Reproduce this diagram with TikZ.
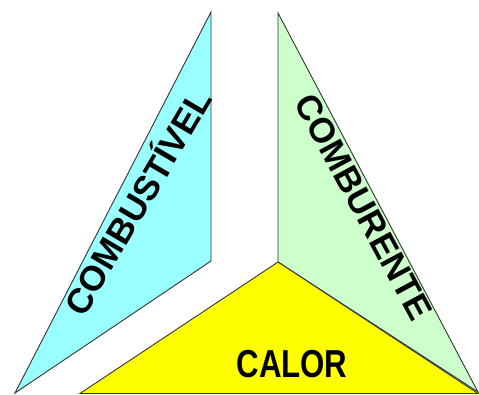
\documentclass[tikz,border=0pt]{standalone}
\usepackage{fontspec}
\setmainfont{Liberation Sans}
\definecolor{fuelc}{HTML}{99FFFF}
\definecolor{oxyc}{HTML}{CCFFCC}
\definecolor{heatc}{HTML}{FFFF00}
\definecolor{edgec}{HTML}{333333}
\tikzset{
  piece/.style={draw=edgec, line width=0.9pt, line join=miter},
  lbl/.style={font=\bfseries\fontsize{35}{35}\selectfont, text height=25pt, text depth=0pt, inner sep=0pt}
}
\begin{document}
\begin{tikzpicture}[x=1pt,y=1pt]
\useasboundingbox (0,0) rectangle (479,394);
% combustivel
\coordinate (f1) at (15,1);
\coordinate (f2) at (211,382);
\coordinate (f3) at (211,133);
\filldraw[piece, fill=fuelc] (f1) -- (f2) -- (f3) -- cycle;
% comburente
\coordinate (o1) at (278,381);
\coordinate (o2) at (478,2);
\coordinate (o3) at (278,132);
\filldraw[piece, fill=oxyc] (o1) -- (o2) -- (o3) -- cycle;
% calor
\coordinate (h1) at (80,0.5);
\coordinate (h2) at (278,132);
\coordinate (h3) at (478,0.5);
\filldraw[piece, fill=heatc] (h1) -- (h2) -- (h3) -- cycle;
\node[lbl, rotate=59.5] (tfuel) at (138,192) {COMBUSTÍVEL};
\node[lbl, rotate=-61.7] (toxy) at (364,187) {COMBURENTE};
\node[lbl, font=\bfseries\fontsize{39}{39}\selectfont, text height=28pt, xscale=0.8] (theat) at (292,31) {CALOR};
\end{tikzpicture}
\end{document}
